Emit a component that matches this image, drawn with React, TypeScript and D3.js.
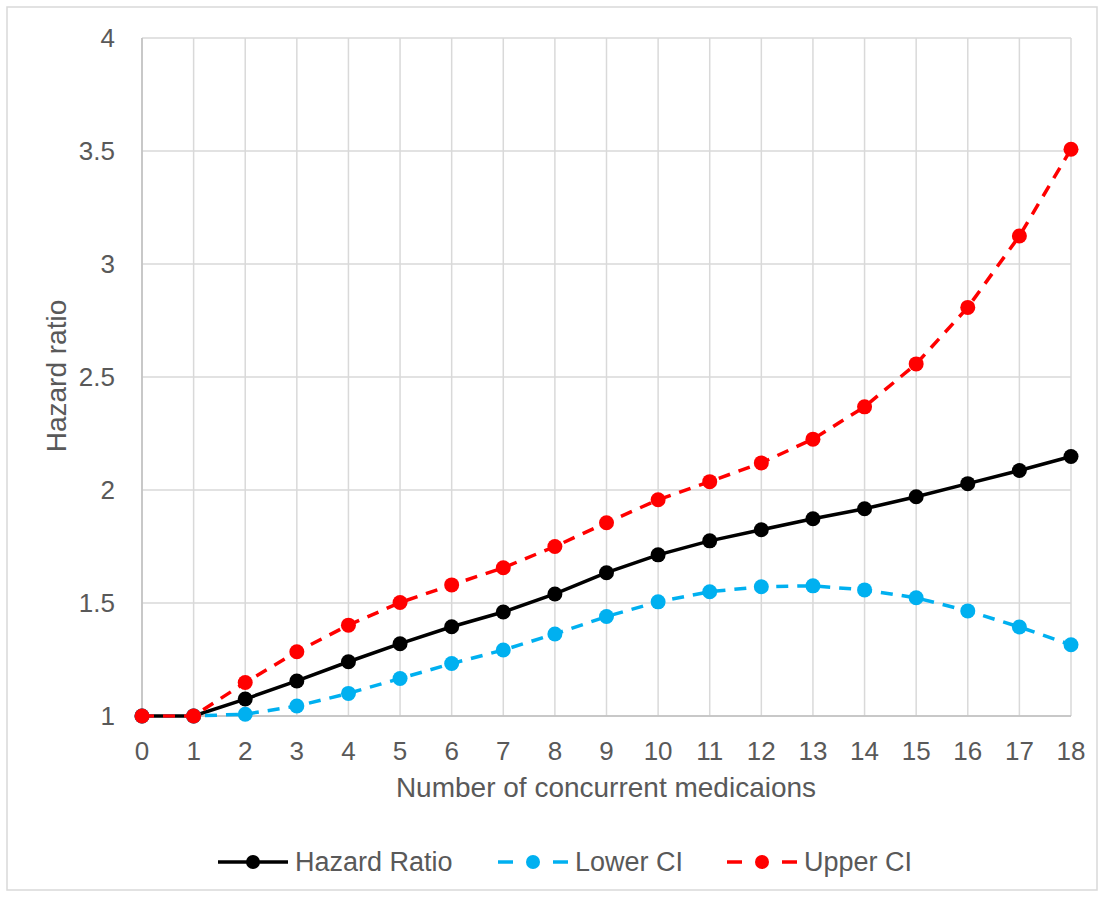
import React from "react";
import * as d3 from "d3";

const medications = [0, 1, 2, 3, 4, 5, 6, 7, 8, 9, 10, 11, 12, 13, 14, 15, 16, 17, 18];
const hazardRatio = [1, 1, 1.075, 1.155, 1.24, 1.32, 1.395, 1.46, 1.54, 1.634, 1.713, 1.775, 1.824, 1.873, 1.917, 1.97, 2.028, 2.086, 2.148];
const lowerCI = [1, 1, 1.008, 1.044, 1.1, 1.166, 1.232, 1.292, 1.363, 1.44, 1.505, 1.55, 1.572, 1.576, 1.558, 1.523, 1.465, 1.394, 1.315];
const upperCI = [1, 1, 1.148, 1.284, 1.402, 1.502, 1.58, 1.656, 1.75, 1.855, 1.957, 2.037, 2.12, 2.225, 2.368, 2.558, 2.808, 3.124, 3.508];
const yTicks = [1, 1.5, 2, 2.5, 3, 3.5, 4];

const seriesList = [
  { name: "Hazard Ratio", values: hazardRatio, color: "#000000", dash: "" },
  { name: "Lower CI", values: lowerCI, color: "#00b0f0", dash: "12 9" },
  { name: "Upper CI", values: upperCI, color: "#ff0000", dash: "12 9" },
];

export default function App() {
  const W = 1104, H = 897;
  const left = 142, right = 1071, top = 38, bottom = 716;
  const x = d3.scaleLinear().domain([0, 18]).range([left, right]);
  const y = d3.scaleLinear().domain([1, 4]).range([bottom, top]);
  const line = d3.line<number>().x((_, i) => x(medications[i])).y((v) => y(v));
  const font = "'Liberation Sans', Arial, sans-serif";
  const legendStarts = [218, 498, 727];
  return (
    <svg width={W} height={H} style={{ position: "absolute", left: 0, top: 0, background: "#fff" }} fontFamily={font}>
      <rect x={7} y={7} width={W - 14} height={H - 14} fill="#fff" stroke="#d9d9d9" strokeWidth={1.5} />
      {yTicks.map((t) => (
        <line key={"gy" + t} x1={left} x2={right} y1={y(t)} y2={y(t)} stroke="#d9d9d9" strokeWidth={1.5} />
      ))}
      {medications.map((m) => (
        <line key={"gx" + m} x1={x(m)} x2={x(m)} y1={top} y2={bottom} stroke="#d9d9d9" strokeWidth={1.5} />
      ))}
      <line x1={left} x2={left} y1={top} y2={bottom} stroke="#bfbfbf" strokeWidth={1.5} />
      <line x1={left} x2={right} y1={bottom} y2={bottom} stroke="#bfbfbf" strokeWidth={1.5} />
      {yTicks.map((t) => (
        <text key={"ty" + t} x={115} y={y(t) + 9} textAnchor="end" fontSize={26} fill="#595959">{t}</text>
      ))}
      {medications.map((m) => (
        <text key={"tx" + m} x={x(m)} y={760} textAnchor="middle" fontSize={26} fill="#595959">{m}</text>
      ))}
      <text x={606} y={797} textAnchor="middle" fontSize={28} fill="#595959">Number of concurrent medicaions</text>
      <text transform={`translate(66,376) rotate(-90)`} textAnchor="middle" fontSize={28} fill="#595959">Hazard ratio</text>
      {seriesList.map((s) => (
        <g key={s.name}>
          <path d={line(s.values) || ""} fill="none" stroke={s.color} strokeWidth={3.5} strokeDasharray={s.dash} />
          {s.values.map((v, i) => (
            <circle key={i} cx={x(medications[i])} cy={y(v)} r={7.5} fill={s.color} />
          ))}
        </g>
      ))}
      {seriesList.map((s, i) => {
        const lx = legendStarts[i];
        const ly = 862;
        return (
          <g key={"lg" + s.name}>
            {s.dash ? (
              <>
                <line x1={lx} x2={lx + 15} y1={ly} y2={ly} stroke={s.color} strokeWidth={3.5} />
                <line x1={lx + 55} x2={lx + 70} y1={ly} y2={ly} stroke={s.color} strokeWidth={3.5} />
              </>
            ) : (
              <line x1={lx} x2={lx + 70} y1={ly} y2={ly} stroke={s.color} strokeWidth={3.5} />
            )}
            <circle cx={lx + 35} cy={ly} r={7} fill={s.color} />
            <text x={lx + 77} y={ly + 9} fontSize={27} fill="#595959">{s.name}</text>
          </g>
        );
      })}
    </svg>
  );
}
